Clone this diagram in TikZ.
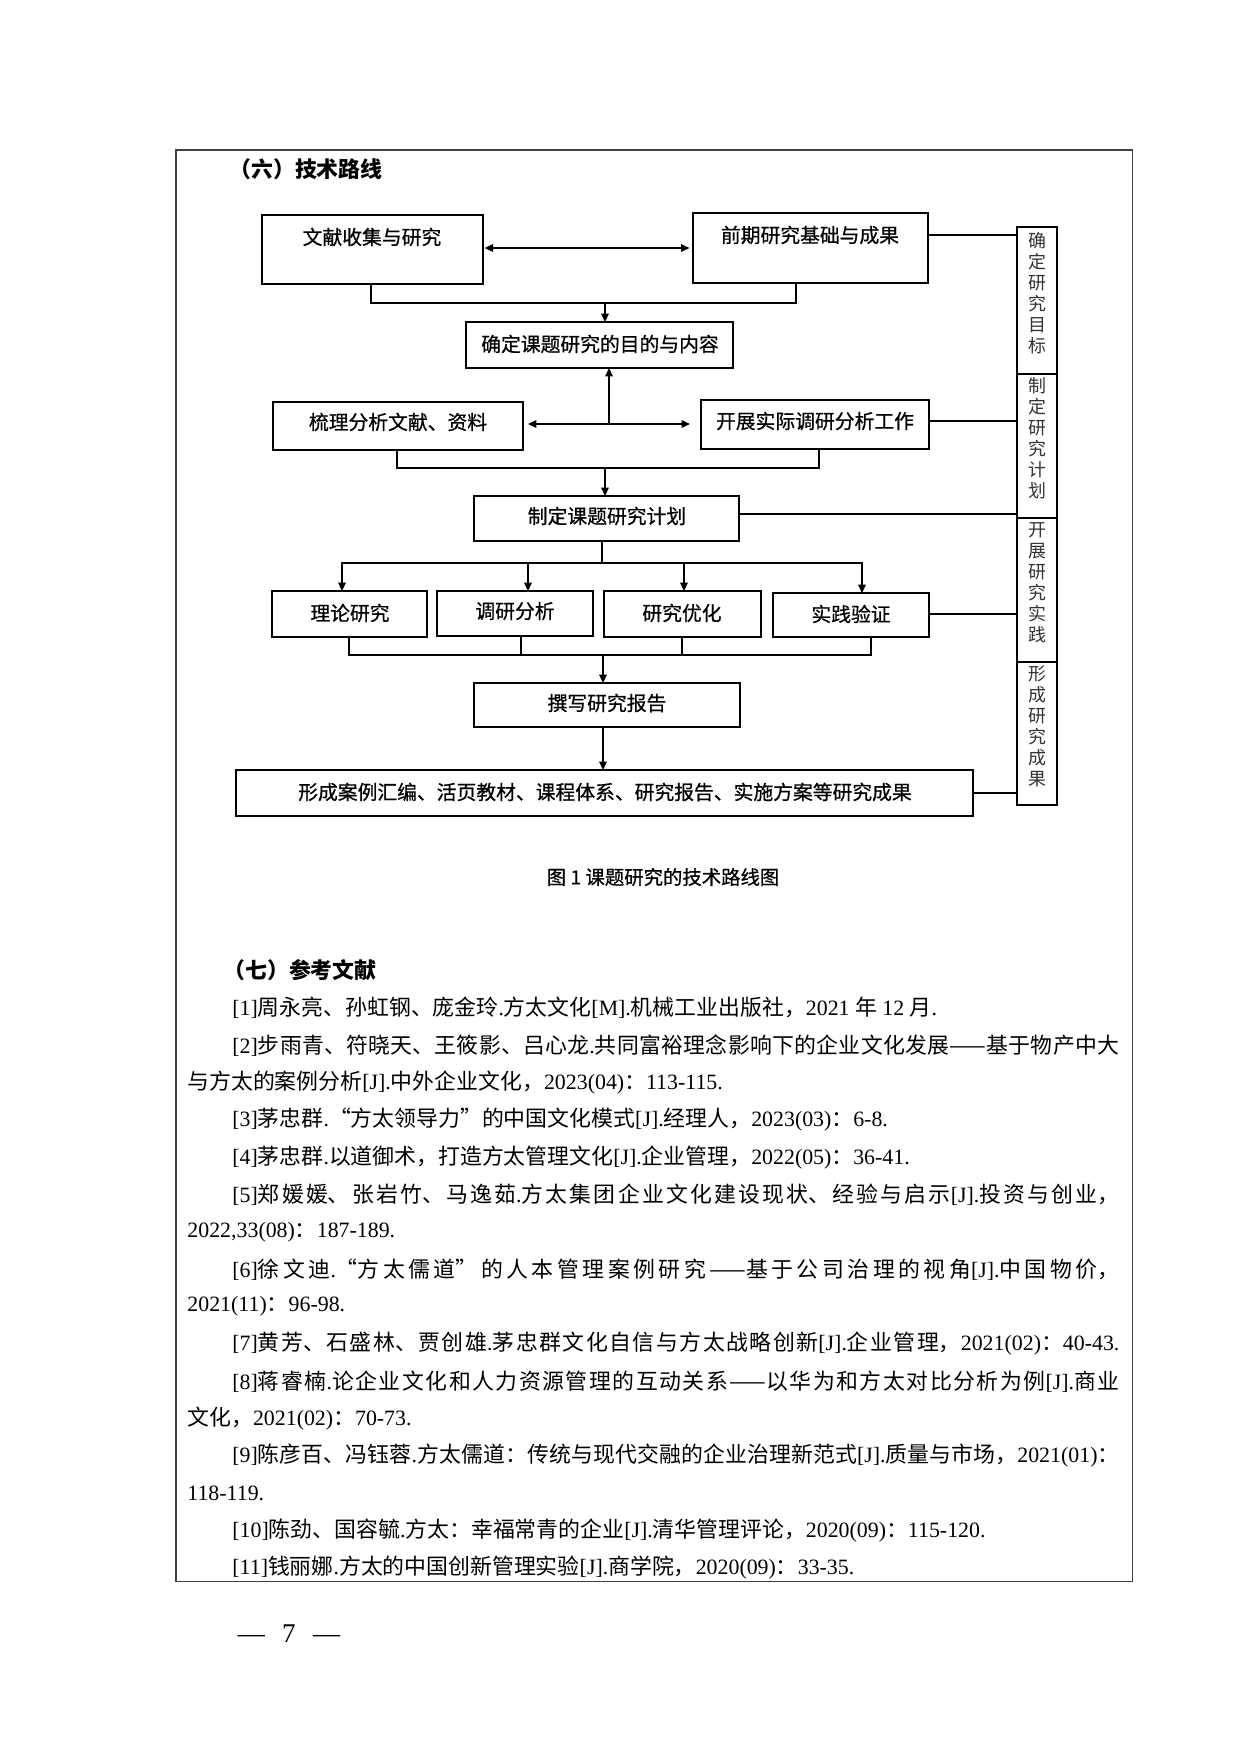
\documentclass[tikz,border=0pt]{standalone}
\usepackage{fontspec}
\setmainfont{Liberation Serif}
\newfontfamily\cjk{Noto Sans CJK SC}
\newfontfamily\cjkm[FakeBold=0.7]{Noto Sans CJK SC}
\newfontfamily\latf{Liberation Serif}
\usetikzlibrary{arrows.meta,fit}
\XeTeXlinebreaklocale "zh"
\XeTeXlinebreakskip=0pt plus 1fil minus 0.2pt
\newdimen\pxu \pxu=0.48005pt
\newcommand\lt[1]{{\latf #1}}
\newcommand\jline[1]{\parbox[c]{887\pxu}{\parindent=0pt\parfillskip=0pt\relax #1}}
\tikzset{
  box/.style={draw, line width=0.95pt, inner sep=0pt, outer sep=0pt},
  lbl/.style={font=\cjkm\fontsize{9.5}{11}\selectfont, inner sep=0pt},
  ln/.style={line width=0.65pt},
  arr/.style={ln, -{Triangle[length=4pt,width=3.6pt]}},
  darr/.style={ln, {Triangle[length=4pt,width=3.6pt]}-{Triangle[length=4pt,width=3.6pt]}},
  colbox/.style={draw, line width=0.75pt, inner sep=0pt, outer sep=0pt, align=center,
    font=\cjk\fontsize{8.6}{10.1}\selectfont, text=black!80},
  refl/.style={anchor=west, inner sep=0pt, font=\cjk\fontsize{10.5}{12}\selectfont},
  hd/.style={anchor=west, inner sep=0pt, font=\cjk\bfseries\fontsize{10.5}{12}\selectfont},
}
\begin{document}
\begin{tikzpicture}[x=0.48005pt, y=-0.48005pt]
\fill[white] (0,0) rectangle (1240,1753);
\useasboundingbox (0,0) rectangle (1240,1753);
% outer frame
\draw[line width=0.9pt, black!75] (176,150) rectangle (1132.5,1581.5);

% headings
\node[hd] (h6) at (229,169) {（六）技术路线};

% boxes
\node[box, fit={(262,215) (483,284)}] (A) {};
\node[box, fit={(693,213) (928,283)}] (B) {};
\node[box, fit={(466,322) (733,368)}] (C) {};
\node[box, fit={(273,402) (523,450)}] (D) {};
\node[box, fit={(701,400) (929,449)}] (E) {};
\node[box, fit={(474,496) (739,541)}] (F) {};
\node[box, fit={(272,591) (427,637)}] (G1) {};
\node[box, fit={(437,591) (593,636)}] (G2) {};
\node[box, fit={(604,591) (761,637)}] (G3) {};
\node[box, fit={(773,593) (929,637)}] (G4) {};
\node[box, fit={(474,683) (740,727)}] (H) {};
\node[box, fit={(236,770) (973,816)}] (I) {};

% labels
\node[lbl] (At) at (372,237) {文献收集与研究};
\node[lbl] (Bt) at (810,235) {前期研究基础与成果};
\node[lbl] (Ct) at (600,344) {确定课题研究的目的与内容};
\node[lbl] (Dt) at (398,422) {梳理分析文献、资料};
\node[lbl] (Et) at (815,421) {开展实际调研分析工作};
\node[lbl] (Ft) at (607,516) {制定课题研究计划};
\node[lbl] (G1t) at (350,613) {理论研究};
\node[lbl] (G2t) at (515,611) {调研分析};
\node[lbl] (G3t) at (682,613) {研究优化};
\node[lbl] (G4t) at (851,614) {实践验证};
\node[lbl] (Ht) at (607,703) {撰写研究报告};
\node[lbl] (It) at (605,792) {形成案例汇编、活页教材、课程体系、研究报告、实施方案等研究成果};
\node[lbl, font=\cjkm\fontsize{9.3}{11}\selectfont] (cap) at (663,877) {图 1 课题研究的技术路线图};

% right column
\node[colbox, fit={(1017,227) (1057,374)}] (K1) {确\\定\\研\\究\\目\\标};
\node[colbox, fit={(1017,374) (1057,518)}] (K2) {制\\定\\研\\究\\计\\划};
\node[colbox, fit={(1017,518) (1057,662)}] (K3) {开\\展\\研\\究\\实\\践};
\node[colbox, fit={(1017,662) (1057,805)}] (K4) {形\\成\\研\\究\\成\\果};

% connector coordinates
\coordinate (ab) at (0,248);
\coordinate (xA) at (371,0);
\coordinate (xB) at (796,0);
\coordinate (j1) at (605,303);
\coordinate (j2) at (609,424);
\coordinate (xD) at (397,0);
\coordinate (xE) at (819,0);
\coordinate (j3) at (605,468);
\coordinate (j4) at (602,563);
\coordinate (g1x) at (342,0);
\coordinate (g2x) at (528,0);
\coordinate (g3x) at (684,0);
\coordinate (g4x) at (862,0);
\coordinate (h1x) at (349,0);
\coordinate (h2x) at (521,0);
\coordinate (h3x) at (682,0);
\coordinate (h4x) at (871,0);
\coordinate (j5) at (603,655);
\coordinate (kb) at (0,235);
\coordinate (ke) at (0,421);
\coordinate (kf) at (0,514);
\coordinate (kg) at (0,614);
\coordinate (ki) at (0,793);

% connectors
\draw[darr, shorten <=0.8pt, shorten >=1.7pt] (A.east |- ab) -- (B.west |- ab);
\draw[ln] (A.south -| xA) |- (j1) -| (B.south -| xB);
\draw[arr] (j1) -- (C.north -| j1);
\draw[arr] (j2) -- (C.south -| j2);
\draw[darr, shorten <=2.4pt, shorten >=5.3pt] (D.east |- j2) -- (E.west |- j2);
\draw[ln] (D.south -| xD) |- (j3) -| (E.south -| xE);
\draw[arr] (j3) -- (F.north -| j3);
\draw[ln] (F.south -| j4) -- (j4);
\draw[arr] (j4) -| (G1.north -| g1x);
\draw[arr] (j4) -| (G2.north -| g2x);
\draw[arr] (j4) -| (G3.north -| g3x);
\draw[arr] (j4) -| (G4.north -| g4x);
\draw[ln] (G1.south -| h1x) |- (j5) -| (G4.south -| h4x);
\draw[ln] (G2.south -| h2x) -- (h2x |- j5);
\draw[ln] (G3.south -| h3x) -- (h3x |- j5);
\draw[arr] (j5) -- (H.north -| j5);
\draw[arr] (H.south -| j5) -- (I.north -| j5);
\draw[ln] (B.east |- kb) -- (K1.west |- kb);
\draw[ln] (E.east |- ke) -- (K2.west |- ke);
\draw[ln] (F.east |- kf) -- (K2.west |- kf);
\draw[ln] (G4.east |- kg) -- (K3.west |- kg);
\draw[ln] (I.east |- ki) -- (K4.west |- ki);

% references
\node[hd] (h7) at (223,970) {（七）参考文献};
\node[refl] (r1) at (232,1008) {\lt{[1]}周永亮、孙虹钢、庞金玲\lt{.}方太文化\lt{[M].}机械工业出版社，\lt{2021 }年\lt{ 12 }月\lt{.}};
\node[refl] (r2) at (232,1045.5) {\jline{\lt{[2]}步雨青、符晓天、王筱影、吕心龙\lt{.}共同富裕理念影响下的企业文化发展——基于物产中大}};
\node[refl] (r2b) at (187,1083) {与方太的案例分析\lt{[J].}中外企业文化，\lt{2023(04)}：\lt{113-115.}};
\node[refl] (r3) at (232,1120) {\lt{[3]}茅忠群\lt{.}“方太领导力”的中国文化模式\lt{[J].}经理人，\lt{2023(03)}：\lt{6-8.}};
\node[refl] (r4) at (232,1157.5) {\lt{[4]}茅忠群\lt{.}以道御术，打造方太管理文化\lt{[J].}企业管理，\lt{2022(05)}：\lt{36-41.}};
\node[refl] (r5) at (232,1195) {\jline{\lt{[5]}郑媛媛、张岩竹、马逸茹\lt{.}方太集团企业文化建设现状、经验与启示\lt{[J].}投资与创业，}};
\node[refl] (r5b) at (187,1232) {\lt{2022,33(08)}：\lt{187-189.}};
\node[refl] (r6) at (232,1269.5) {\jline{\lt{[6]}徐文迪\lt{.}“方太儒道”的人本管理案例研究——基于公司治理的视角\lt{[J].}中国物价，}};
\node[refl] (r6b) at (187,1306.5) {\lt{2021(11)}：\lt{96-98.}};
\node[refl] (r7) at (232,1344) {\jline{\lt{[7]}黄芳、石盛林、贾创雄\lt{.}茅忠群文化自信与方太战略创新\lt{[J].}企业管理，\lt{2021(02)}：\lt{40-43.}}};
\node[refl] (r8) at (232,1381.5) {\jline{\lt{[8]}蒋睿楠\lt{.}论企业文化和人力资源管理的互动关系——以华为和方太对比分析为例\lt{[J].}商业}};
\node[refl] (r8b) at (187,1418.5) {文化，\lt{2021(02)}：\lt{70-73.}};
\node[refl] (r9) at (232,1456) {\jline{\lt{[9]}陈彦百、冯钰蓉\lt{.}方太儒道：传统与现代交融的企业治理新范式\lt{[J].}质量与市场，\lt{2021(01)}：}};
\node[refl] (r9b) at (187,1493) {\lt{118-119.}};
\node[refl] (r10) at (232,1530.5) {\lt{[10]}陈劲、国容毓\lt{.}方太：幸福常青的企业\lt{[J].}清华管理评论，\lt{2020(09)}：\lt{115-120.}};
\node[refl] (r11) at (232,1567.5) {\lt{[11]}钱丽娜\lt{.}方太的中国创新管理实验\lt{[J].}商学院，\lt{2020(09)}：\lt{33-35.}};

% page number
\node[inner sep=0pt, font=\latf\fontsize{13}{15}\selectfont] (pg) at (289,1634) {—\hspace{8.3pt}7\hspace{8.3pt}—};
\end{tikzpicture}
\end{document}
